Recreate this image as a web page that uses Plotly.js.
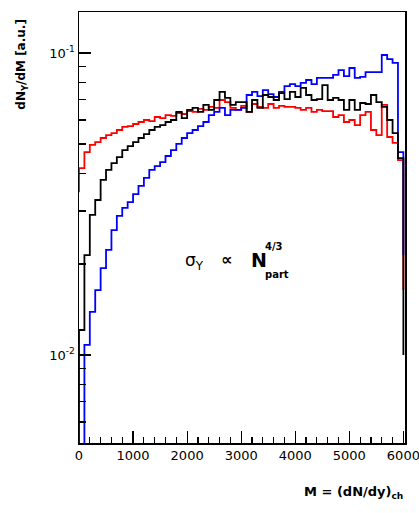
<!DOCTYPE html>
<html>
<head>
<meta charset="utf-8">
<script src="https://cdn.plot.ly/plotly-3.0.1.min.js"></script>
<style>html,body{margin:0;padding:0;background:#fff;}#chart{width:419px;height:513px;}</style>
</head>
<body>
<div id="chart"></div>
<script>
// Bin edges of the M = (dN/dy)_ch histograms
const binEdges = [0,100,200,300,400,500,600,700,800,900,1000,1100,1200,1300,1400,1500,1600,1700,1800,1900,
  2000,2100,2200,2300,2400,2500,2600,2700,2800,2900,3000,3100,3200,3300,3400,3500,3600,3700,3800,3900,
  4000,4100,4200,4300,4400,4500,4600,4700,4800,4900,5000,5100,5200,5300,5400,5500,5600,5700,5800,5900,6000];

// Red histogram
const redStart = 0.0346;
const redVals = [0.0416,0.0470,0.0496,0.0507,0.0523,0.0535,0.0543,0.0556,0.0569,0.0573,
  0.0582,0.0591,0.0600,0.0595,0.0614,0.0609,0.0623,0.0619,0.0633,0.0628,
  0.0642,0.0638,0.0653,0.0648,0.0663,0.0658,0.0699,0.0688,0.0658,0.0648,
  0.0668,0.0638,0.0678,0.0663,0.0658,0.0678,0.0658,0.0668,0.0663,0.0663,
  0.0658,0.0648,0.0658,0.0638,0.0648,0.0642,0.0642,0.0614,0.0623,0.0591,
  0.0600,0.0577,0.0623,0.0638,0.0556,0.0535,0.0673,0.0527,0.0504,0.0442];
const redEnd = 0.0164;

// Black histogram
const blackStart = 0.004;
const blackVals = [0.0121,0.0214,0.0291,0.0326,0.0380,0.0410,0.0432,0.0452,0.0477,0.0492,
  0.0507,0.0523,0.0539,0.0556,0.0569,0.0577,0.0591,0.0600,0.0638,0.0609,
  0.0648,0.0658,0.0638,0.0673,0.0648,0.0699,0.0743,0.0710,0.0673,0.0688,
  0.0688,0.0638,0.0699,0.0658,0.0726,0.0715,0.0699,0.0737,0.0704,0.0743,
  0.0715,0.0766,0.0726,0.0699,0.0704,0.0783,0.0699,0.0710,0.0699,0.0648,
  0.0699,0.0648,0.0683,0.0678,0.0726,0.0688,0.0663,0.0600,0.0543,0.0449];
const blackEnd = 0.0100;

// Blue histogram
const blueStart = 0.004;
const blueVals = [0.004,0.0108,0.0139,0.0164,0.0194,0.0223,0.0259,0.0289,0.0307,0.0321,
  0.0341,0.0363,0.0386,0.0410,0.0422,0.0435,0.0456,0.0477,0.0500,0.0523,
  0.0543,0.0556,0.0573,0.0591,0.0623,0.0638,0.0658,0.0623,0.0648,0.0648,
  0.0658,0.0726,0.0743,0.0720,0.0754,0.0731,0.0715,0.0743,0.0777,0.0789,
  0.0777,0.0796,0.0814,0.0789,0.0827,0.0827,0.0827,0.0846,0.0878,0.0839,
  0.0892,0.0827,0.0833,0.0865,0.0865,0.0865,0.0985,0.0955,0.0927,0.0470];
const blueEnd = 0.0214;

const yTickVals = [0.01, 0.1];
const yTickText = ['10<sup>-2</sup>', '10<sup>-1</sup>'];
const yMinorVals = [0.006,0.007,0.008,0.009,0.02,0.03,0.04,0.05,0.06,0.07,0.08,0.09];
const xTickVals = [0,1000,2000,3000,4000,5000,6000];
const xTickText = ['0','1000','2000','3000','4000','5000','6000'];

function stepTrace(start, vals, end, color) {
  return {
    x: [binEdges[0]].concat(binEdges),
    y: [start].concat(vals).concat([end]),
    type: 'scatter', mode: 'lines',
    line: {shape: 'hv', color: color, width: 1.8},
    hoverinfo: 'skip', showlegend: false
  };
}

const data = [
  stepTrace(redStart, redVals, redEnd, '#ff0000'),
  stepTrace(blueStart, blueVals, blueEnd, '#0000ff'),
  stepTrace(blackStart, blackVals, blackEnd, '#000000')
];

const fam = 'DejaVu Sans, Arial, sans-serif';
const font = {family: fam, color: '#000', size: 12};

const layout = {
  width: 419, height: 513,
  margin: {l: 79, r: 14, t: 12, b: 70},
  paper_bgcolor: '#fff', plot_bgcolor: '#fff',
  font: font,
  showlegend: false,
  xaxis: {
    range: [0, 6030],
    tickmode: 'array', tickvals: xTickVals, ticktext: xTickText,
    ticks: 'inside', ticklen: 12, tickwidth: 1.2, tickcolor: '#000',
    minor: {dtick: 200, tick0: 0, ticks: 'inside', ticklen: 6, tickwidth: 1.2, tickcolor: '#000', showgrid: false},
    showgrid: false, zeroline: false,
    showline: true, mirror: true, linecolor: '#000', linewidth: 1.5,
    ticklabeloverflow: 'allow',
    tickfont: {size: 13, family: fam, color: '#000'}
  },
  yaxis: {
    type: 'log',
    range: [-2.2914, -0.8642],
    tickmode: 'array', tickvals: yTickVals, ticktext: yTickText,
    ticks: 'inside', ticklen: 12, tickwidth: 1.2, tickcolor: '#000',
    minor: {tickmode: 'array', tickvals: yMinorVals, ticks: 'inside', ticklen: 7, tickwidth: 1.2, tickcolor: '#000', showgrid: false},
    showgrid: false, zeroline: false,
    showline: true, mirror: true, linecolor: '#000', linewidth: 1.5,
    tickfont: {size: 13, family: fam, color: '#000'}
  },
  annotations: [
    {xref: 'paper', yref: 'paper', x: -0.175, y: 0.88, xanchor: 'center', yanchor: 'middle',
     textangle: -90, showarrow: false, text: '<b>dN<sub>Υ</sub>/dM [a.u.]</b>',
     font: {size: 12, family: fam, color: '#000'}},
    {xref: 'paper', yref: 'paper', x: 1.0, y: -0.115, xanchor: 'right', yanchor: 'middle',
     showarrow: false, text: '<b>M = (dN/dy)<sub>ch</sub></b>',
     font: {size: 13, family: fam, color: '#000'}},
    {xref: 'paper', yref: 'paper', x: 0.32, y: 0.42, xanchor: 'left', yanchor: 'middle',
     showarrow: false, text: 'σ<sub>Υ</sub>',
     font: {size: 17, family: fam, color: '#000'}},
    {xref: 'paper', yref: 'paper', x: 0.43, y: 0.425, xanchor: 'left', yanchor: 'middle',
     showarrow: false, text: '<b>∝</b>',
     font: {size: 16, family: fam, color: '#000'}},
    {xref: 'paper', yref: 'paper', x: 0.52, y: 0.425, xanchor: 'left', yanchor: 'middle',
     showarrow: false, text: '<b>N</b>',
     font: {size: 19, family: fam, color: '#000'}},
    {xref: 'paper', yref: 'paper', x: 0.565, y: 0.455, xanchor: 'left', yanchor: 'middle',
     showarrow: false, text: '<b>4/3</b>',
     font: {size: 10, family: fam, color: '#000'}},
    {xref: 'paper', yref: 'paper', x: 0.565, y: 0.39, xanchor: 'left', yanchor: 'middle',
     showarrow: false, text: '<b>part</b>',
     font: {size: 10, family: fam, color: '#000'}}
  ]
};

Plotly.newPlot('chart', data, layout, {staticPlot: true, displayModeBar: false});
</script>
</body>
</html>
